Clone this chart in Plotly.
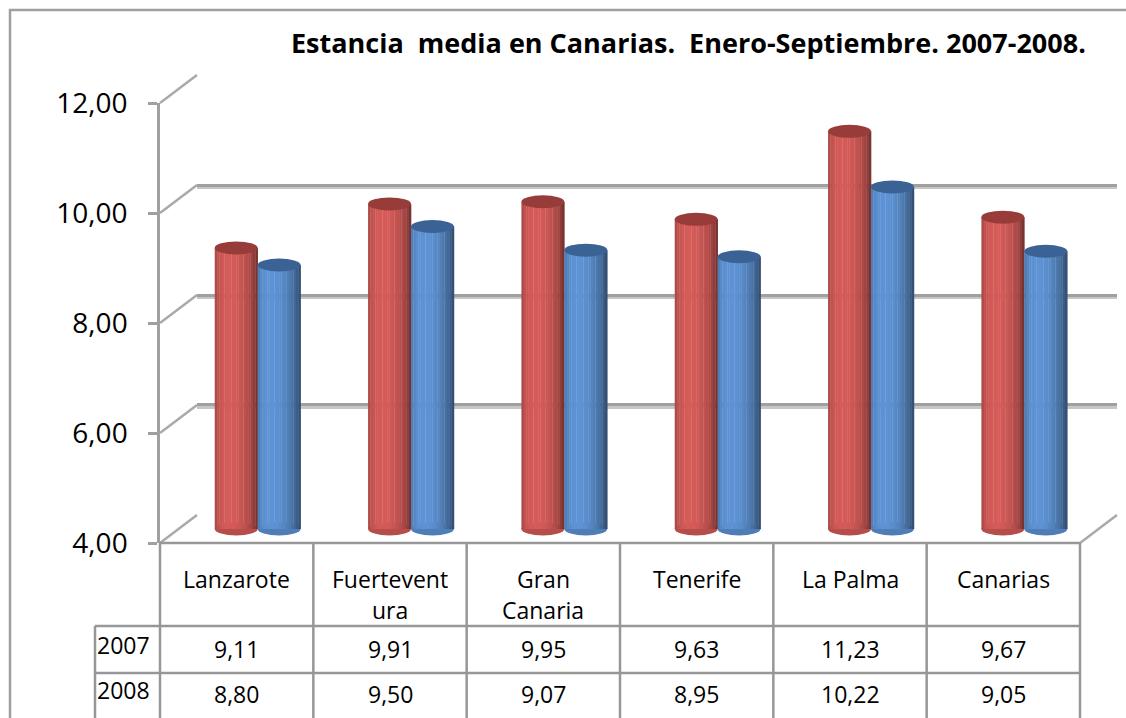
import numpy as np
import plotly.graph_objects as go

# ---------------- data ----------------
categories = ["Lanzarote", "Fuerteventura", "Gran Canaria", "Tenerife", "La Palma", "Canarias"]
cat_labels = ["Lanzarote", "Fuertevent<br>ura", "Gran<br>Canaria", "Tenerife", "La Palma", "Canarias"]
series_names = ["2007", "2008"]
values_2007 = [9.11, 9.91, 9.95, 9.63, 11.23, 9.67]
values_2008 = [8.80, 9.50, 9.07, 8.95, 10.22, 9.05]
y_ticks = [4, 6, 8, 10, 12]
title_text = "Estancia  media en Canarias.  Enero-Septiembre. 2007-2008."

# ---------------- geometry ----------------
W, H = 1126, 718
def px(x): return x / W
def py(y): return 1 - y / H

FX0, FX1 = 160, 1080          # front plane x extent
FY_LO, FY_HI = 543, 103       # pixel rows for y=4 and y=12 on front plane
DDX, DDY = 37, -28            # back wall offset
BDX, BDY = 21, -14            # bar depth offset
YMIN, YMAX = 4, 12
ppu = (FY_LO - FY_HI) / (YMAX - YMIN)
FONT = "Open Sans"

fig = go.Figure()

def dummy(xa, ya):
    fig.add_trace(go.Scatter(x=[0], y=[8], mode="markers", marker=dict(opacity=0),
                             hoverinfo="skip", showlegend=False, xaxis=xa, yaxis=ya))

dummy("x", "y")     # light shadow of back-wall grid
dummy("x2", "y2")   # dark back-wall grid
dummy("x3", "y3")   # front axis with labels

# ---------------- cylinders as shaded stripes (subplot x4y4) ----------------
bar_w = 0.28
N = 18
series = [
    (values_2007, -bar_w, (214, 92, 89), (152, 60, 58), 0.30),
    (values_2008, 0.0, (94, 148, 214), (58, 98, 148), 0.40),
]
shapes = []
for vals, off, peak, topc, light in series:
    for k in range(N):
        u = -1 + (2 * k + 1) / N
        th = np.arcsin(u)
        f = 0.55 + 0.45 * max(0.0, np.cos(th + light))
        col = "rgb(%d,%d,%d)" % tuple(int(c * f) for c in peak)
        fig.add_trace(go.Bar(
            x=list(range(len(categories))), y=[v - YMIN for v in vals], base=YMIN,
            width=bar_w / N + 0.002, offset=off + k * bar_w / N,
            marker=dict(color=col, line=dict(width=0)),
            xaxis="x4", yaxis="y4", showlegend=False, hoverinfo="skip"))
    e = 6.5 / ppu
    midcol = "rgb(%d,%d,%d)" % tuple(int(c * 0.85) for c in peak)
    for i, v in enumerate(vals):
        shapes.append(dict(type="circle", xref="x4", yref="y4",
                           x0=i + off, x1=i + off + bar_w, y0=v - e, y1=v + e,
                           fillcolor="rgb(%d,%d,%d)" % topc, line=dict(width=0), layer="above"))
        shapes.append(dict(type="circle", xref="x4", yref="y4",
                           x0=i + off, x1=i + off + bar_w, y0=YMIN - e, y1=YMIN + e,
                           fillcolor=midcol, line=dict(width=0), layer="below"))

# ---------------- decorations: 3D wall diagonals ----------------
GRID = "#a0a0a0"
GRID2 = "#c6c6c6"
for t in y_ticks:
    yf = FY_LO - (t - YMIN) * ppu
    shapes.append(dict(type="line", xref="paper", yref="paper",
                       x0=px(FX0), y0=py(yf), x1=px(FX0 + DDX), y1=py(yf + DDY),
                       line=dict(color="#aaaaaa", width=2.5)))
shapes.append(dict(type="line", xref="paper", yref="paper",
                   x0=px(FX1), y0=py(FY_LO), x1=px(FX1 + DDX), y1=py(FY_LO + DDY),
                   line=dict(color="#aaaaaa", width=2.5)))

# ---------------- data table ----------------
TBL = "#979797"
ncat = len(categories)
colw = (FX1 - FX0) / ncat
row_y = [FY_LO, 626, 673, 760]
LBL_X = 95
def hline(x0, x1, y):
    shapes.append(dict(type="line", xref="paper", yref="paper", x0=px(x0), x1=px(x1),
                       y0=py(y), y1=py(y), line=dict(color=TBL, width=2.5)))
def vline(x, y0, y1):
    shapes.append(dict(type="line", xref="paper", yref="paper", x0=px(x), x1=px(x),
                       y0=py(y0), y1=py(y1), line=dict(color=TBL, width=2.5)))
hline(FX0, FX1, row_y[0])
hline(LBL_X, FX1, row_y[1])
hline(LBL_X, FX1, row_y[2])
for i in range(ncat + 1):
    vline(FX0 + i * colw, row_y[0], row_y[3])
vline(LBL_X, row_y[1], row_y[3])

# outer chart border
shapes.append(dict(type="rect", xref="paper", yref="paper", x0=px(10), y0=py(10),
                   x1=px(W + 20), y1=py(H + 20), line=dict(color="#a0a0a0", width=2.5)))

annotations = []
TF = dict(family=FONT, size=23, color="black")
for i, lab in enumerate(cat_labels):
    cx = FX0 + (i + 0.5) * colw
    for j, part in enumerate(lab.split("<br>")):
        annotations.append(dict(text=part, x=px(cx), y=py(579 + 31 * j), xref="paper", yref="paper",
                                xanchor="center", yanchor="middle", showarrow=False, font=TF))
row_centers = [649, 694]
for r, (name, vals) in enumerate(zip(series_names, [values_2007, values_2008])):
    yc = row_centers[r]
    annotations.append(dict(text=name, x=px(LBL_X), y=py(yc - 4), xref="paper", yref="paper",
                            xanchor="left", yanchor="middle", showarrow=False, font=TF))
    for i, v in enumerate(vals):
        cx = FX0 + (i + 0.5) * colw
        annotations.append(dict(text=f"{v:.2f}".replace(".", ","), x=px(cx), y=py(yc), xref="paper",
                                yref="paper", xanchor="center", yanchor="middle", showarrow=False,
                                font=TF))
# title
annotations.append(dict(text="<b>" + title_text + "</b>", x=px(688), y=py(42), xref="paper", yref="paper",
                        xanchor="center", yanchor="middle", showarrow=False,
                        font=dict(family=FONT, size=27, color="black")))

grid_common = dict(range=[YMIN - 0.005, YMAX + 0.005], tickvals=y_ticks, showticklabels=False,
                   showgrid=True, zeroline=False, showline=False, ticks="")
fig.update_layout(
    width=W, height=H, margin=dict(l=0, r=0, t=0, b=0, pad=0, autoexpand=False),
    paper_bgcolor="white", plot_bgcolor="rgba(0,0,0,0)",
    barmode="overlay", separators=",.", showlegend=False,
    xaxis=dict(domain=[px(FX0 + DDX), px(FX1 + DDX)], range=[0, 1], visible=False),
    yaxis=dict(domain=[py(FY_LO + DDY + 2.5), py(FY_HI + DDY + 2.5)], gridcolor=GRID2, gridwidth=3,
               **grid_common),
    xaxis2=dict(domain=[px(FX0 + DDX), px(FX1 + DDX)], range=[0, 1], visible=False, anchor="y2"),
    yaxis2=dict(domain=[py(FY_LO + DDY), py(FY_HI + DDY)], gridcolor=GRID, gridwidth=2.5, anchor="x2",
                **grid_common),
    xaxis3=dict(domain=[px(FX0), px(FX1)], range=[0, 1], visible=False, anchor="y3"),
    yaxis3=dict(domain=[py(FY_LO), py(FY_HI)], range=[YMIN, YMAX], anchor="x3",
                tickvals=y_ticks, tickformat=".2f", showgrid=False, zeroline=False,
                showline=True, linecolor="#a0a0a0", linewidth=2.5,
                ticks="outside", ticklen=9, tickwidth=2.5, tickcolor="#a0a0a0",
                ticklabelstandoff=15, automargin=False,
                tickfont=dict(family=FONT, size=28, color="black")),
    xaxis4=dict(domain=[px(FX0 + BDX), px(FX1 + BDX)], range=[-0.5, ncat - 0.5], visible=False,
                anchor="y4"),
    yaxis4=dict(domain=[py(FY_LO + BDY + 0.3 * ppu), py(FY_HI + BDY)], range=[YMIN - 0.3, YMAX],
                visible=False, anchor="x4"),
    shapes=shapes, annotations=annotations,
)

fig.write_html("out.html", config={"displayModeBar": False},
               post_script="document.body.style.margin='0';document.body.style.overflow='hidden';")
